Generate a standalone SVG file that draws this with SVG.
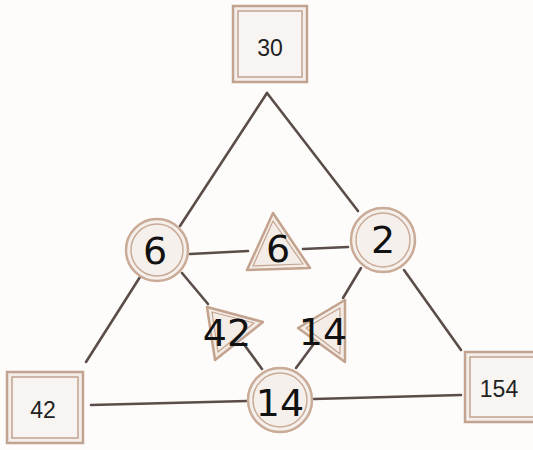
<svg xmlns="http://www.w3.org/2000/svg" width="533" height="450" viewBox="0 0 533 450">
<defs>
<style>
.bg{fill:#fdfcfb}
.ln{stroke:#5b4d48;stroke-width:2.6;fill:none;stroke-linecap:round}
.boxo{fill:#f4eeea;stroke:#c2a38f;stroke-width:2.5}
.boxi{fill:#f8f4f1;stroke:#c2a38f;stroke-width:1.5}
.co{fill:#f5f0ec;stroke:#c9ab97;stroke-width:2.5}
.ci{fill:none;stroke:#c9ab97;stroke-width:1.5}
.tri{fill:#f3ece7;stroke:#c4a38e;stroke-width:2.5;stroke-linejoin:round}
.trii{fill:none;stroke:#c4a38e;stroke-width:1.2;stroke-linejoin:round}
.bt{font-family:"Liberation Sans",Arial,sans-serif;font-size:23px;fill:#222;text-anchor:middle;dominant-baseline:central}
.ht{font-family:"DejaVu Sans",sans-serif;font-size:38px;fill:#111;text-anchor:middle;dominant-baseline:central}
</style>
</defs>
<rect class="bg" x="0" y="0" width="533" height="450"/>
<g id="connectors">
<line class="ln" x1="267" y1="93" x2="180" y2="226"/>
<line class="ln" x1="140" y1="277" x2="86" y2="362"/>
<line class="ln" x1="267" y1="93" x2="358" y2="211"/>
<line class="ln" x1="404" y1="270" x2="461" y2="350"/>
<line class="ln" x1="190" y1="254" x2="248" y2="251"/>
<line class="ln" x1="303" y1="249" x2="348" y2="247"/>
<line class="ln" x1="182" y1="273" x2="208" y2="304"/>
<line class="ln" x1="243" y1="343" x2="262" y2="369"/>
<line class="ln" x1="361" y1="268" x2="343" y2="298"/>
<line class="ln" x1="313" y1="345" x2="296" y2="368"/>
<line class="ln" x1="91" y1="405" x2="247" y2="401"/>
<line class="ln" x1="314" y1="399" x2="461" y2="395"/>
</g>
<g id="box30">
<rect class="boxo" x="233" y="6" width="74" height="76"/>
<rect class="boxi" x="238" y="11" width="64" height="66"/>
<text class="bt" x="270" y="48">30</text>
</g>
<g id="box42">
<rect class="boxo" x="7" y="372" width="76" height="71"/>
<rect class="boxi" x="12" y="377" width="66" height="61"/>
<text class="bt" x="43" y="410">42</text>
</g>
<g id="box154">
<rect class="boxo" x="465" y="352" width="76" height="70"/>
<rect class="boxi" x="470" y="357" width="66" height="60"/>
<text class="bt" x="499" y="389">154</text>
</g>
<g id="circle6">
<circle class="co" cx="157" cy="250" r="31"/>
<circle class="ci" cx="157" cy="250" r="26"/>
<text class="ht" x="155" y="251">6</text>
</g>
<g id="circle2">
<circle class="co" cx="383" cy="240" r="32"/>
<circle class="ci" cx="383" cy="240" r="27"/>
<text class="ht" x="383" y="240">2</text>
</g>
<g id="circle14">
<circle class="co" cx="280" cy="400" r="32"/>
<circle class="ci" cx="280" cy="400" r="27"/>
<text class="ht" x="280" y="403">14</text>
</g>
<g id="tri6">
<polygon class="tri" points="273,213 247,270 310,268"/>
<polygon class="trii" points="273,221 253,266 303,264"/>
<text class="ht" x="278" y="249">6</text>
</g>
<g id="tri42">
<polygon class="tri" points="207,307 263,322 215,360"/>
<polygon class="trii" points="212,312 254,323 218,352"/>
<text class="ht" x="227" y="333">42</text>
</g>
<g id="tri14">
<polygon class="tri" points="298,328 345,300 345,362"/>
<polygon class="trii" points="306,328 340,308 340,354"/>
<text class="ht" x="323" y="332">14</text>
</g>
</svg>
